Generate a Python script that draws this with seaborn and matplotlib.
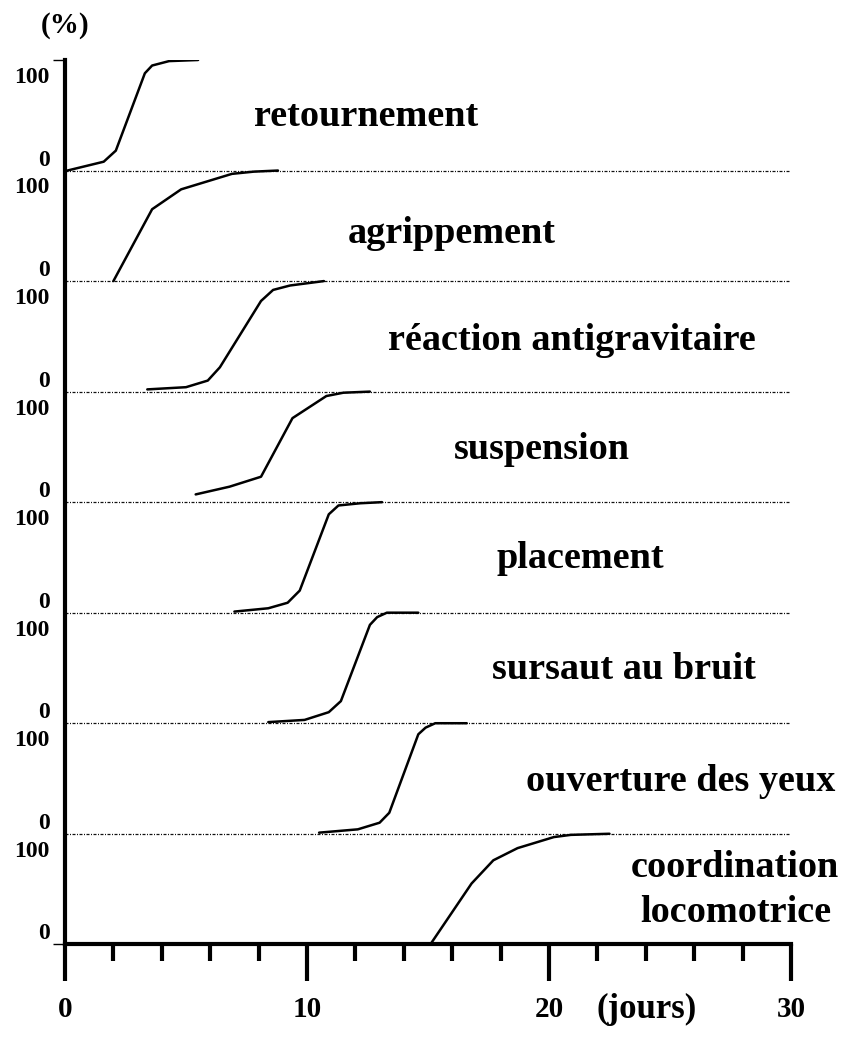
import matplotlib
matplotlib.use("Agg")
import matplotlib.pyplot as plt
import numpy as np
import pandas as pd
import seaborn as sns

# ---------------- data ----------------
behaviours = ["retournement", "agrippement", "réaction antigravitaire", "suspension",
              "placement", "sursaut au bruit", "ouverture des yeux",
              "coordination\nlocomotrice"]

days_retournement = [0.1, 1.6, 2.1, 3.3, 3.6, 4.3, 5.5]
pct_retournement = [0, 8, 18, 88, 95, 99, 100]

days_agrippement = [2.0, 3.6, 4.8, 5.7, 6.9, 7.8, 8.8]
pct_agrippement = [0, 65, 83, 89, 97, 99, 100]

days_reaction = [3.4, 5.0, 5.9, 6.4, 8.1, 8.6, 9.3, 10.7]
pct_reaction = [2, 4, 10, 22, 82, 92, 96, 100]

days_suspension = [5.4, 6.8, 8.1, 9.4, 10.8, 11.5, 12.6]
pct_suspension = [7, 14, 23, 76, 96, 99, 100]

days_placement = [7.0, 8.4, 9.2, 9.7, 10.9, 11.3, 12.2, 13.1]
pct_placement = [1, 4, 9, 20, 89, 97, 99, 100]

days_sursaut = [8.4, 9.9, 10.9, 11.4, 12.6, 12.9, 13.3, 14.6]
pct_sursaut = [1, 3, 10, 20, 89, 96, 100, 100]

days_ouverture = [10.5, 12.1, 13.0, 13.4, 14.6, 14.9, 15.3, 16.6]
pct_ouverture = [1, 4, 10, 19, 90, 96, 100, 100]

days_coordination = [15.1, 16.8, 17.7, 18.7, 20.2, 20.9, 22.5]
pct_coordination = [0, 55, 76, 87, 97, 99, 100]

all_days = [days_retournement, days_agrippement, days_reaction, days_suspension,
            days_placement, days_sursaut, days_ouverture, days_coordination]
all_pct = [pct_retournement, pct_agrippement, pct_reaction, pct_suspension,
           pct_placement, pct_sursaut, pct_ouverture, pct_coordination]

label_day = [12.45, 16.0, 20.95, 19.7, 21.3, 23.1, 25.45, 27.7]
label_pct = [40, 34, 38, 39, 40, 40, 39, 20]

x_major = [0, 10, 20, 30]
x_minor = [2, 4, 6, 8, 12, 14, 16, 18, 22, 24, 26, 28]

n = len(behaviours)
panel = 100  # each panel spans 0..100 %

# long table
rows = []
for i, (name, d, p) in enumerate(zip(behaviours, all_days, all_pct)):
    offset = (n - 1 - i) * panel
    for dd, pp in zip(d, p):
        rows.append({"comportement": name, "jours": dd, "pct": pp, "y": offset + pp})
df = pd.DataFrame(rows)

# ---------------- style ----------------
sns.set_theme(style="white")
plt.rcParams["font.family"] = ["Liberation Serif", "DejaVu Serif"]
plt.rcParams["font.weight"] = "bold"
plt.rcParams["text.color"] = "black"
plt.rcParams["xtick.color"] = "black"
plt.rcParams["ytick.color"] = "black"
plt.rcParams["axes.labelcolor"] = "black"

fig = plt.figure(figsize=(8.47, 10.37), dpi=100)
ax = fig.add_axes([65 / 847, (1037 - 944.3) / 1037, (791 - 65) / 847, (944.3 - 60) / 1037])

sns.lineplot(data=df, x="jours", y="y", hue="comportement",
             palette=["black"] * n, estimator=None, sort=False, legend=False,
             lw=1.8, ax=ax)

# dash-dot separators
for i in range(1, n):
    ax.plot([0, 30], [i * panel, i * panel], color="#111111", lw=0.9,
            linestyle=(0, (2.4, 1.2, 0.8, 1.2)), zorder=1)

ax.set_xlim(0, 30)
ax.set_ylim(0, n * panel)

for s in ["top", "right"]:
    ax.spines[s].set_visible(False)
for s in ["left", "bottom"]:
    ax.spines[s].set_linewidth(3.0)
    ax.spines[s].set_color("black")

ax.set_xticks(x_major)
ax.set_xticks(x_minor, minor=True)
ax.set_xticklabels([str(v) for v in x_major])
ax.tick_params(axis="x", which="major", direction="out", length=26.5, width=3.0,
               color="black", labelcolor="black", labelsize=21, pad=11, bottom=True)
ax.tick_params(axis="x", which="minor", direction="out", length=12.5, width=3.0,
               color="black", bottom=True)
ax.set_yticks([0, n * panel])
ax.set_yticklabels(["", ""])
ax.tick_params(axis="y", which="major", direction="out", length=9, width=1.0,
               color="black", left=True)
ax.set_xlabel("")
ax.set_ylabel("")

# per-panel 100 / 0 labels
for i in range(n):
    base = (n - 1 - i) * panel
    ax.annotate("100", xy=(0, base + panel), xycoords=("axes fraction", "data"),
                xytext=(-11, -16.5), textcoords="offset points", ha="right",
                va="baseline", fontsize=17, fontweight="bold", color="black")
    ax.annotate("0", xy=(0, base), xycoords=("axes fraction", "data"),
                xytext=(-11, 3.5), textcoords="offset points", ha="right",
                va="baseline", fontsize=17, fontweight="bold", color="black")

# behaviour names
for i, name in enumerate(behaviours):
    base = (n - 1 - i) * panel
    lines = name.split("\n")
    for j, line in enumerate(reversed(lines)):
        ax.text(label_day[i], base + label_pct[i] + j * 41, line, ha="center",
                va="baseline", fontsize=27.5, fontweight="bold", color="black")

# axis titles
ax.annotate("(%)", xy=(0, 1), xycoords="axes fraction", xytext=(0, 25),
            textcoords="offset points", ha="center", va="center",
            fontsize=21, fontweight="bold", color="black")
ax.annotate("(jours)", xy=(24.05, 0), xycoords=("data", "axes fraction"),
            xytext=(0, -47), textcoords="offset points", ha="center",
            va="center", fontsize=25, fontweight="bold", color="black")

fig.savefig("out.png", dpi=100, facecolor="white")
